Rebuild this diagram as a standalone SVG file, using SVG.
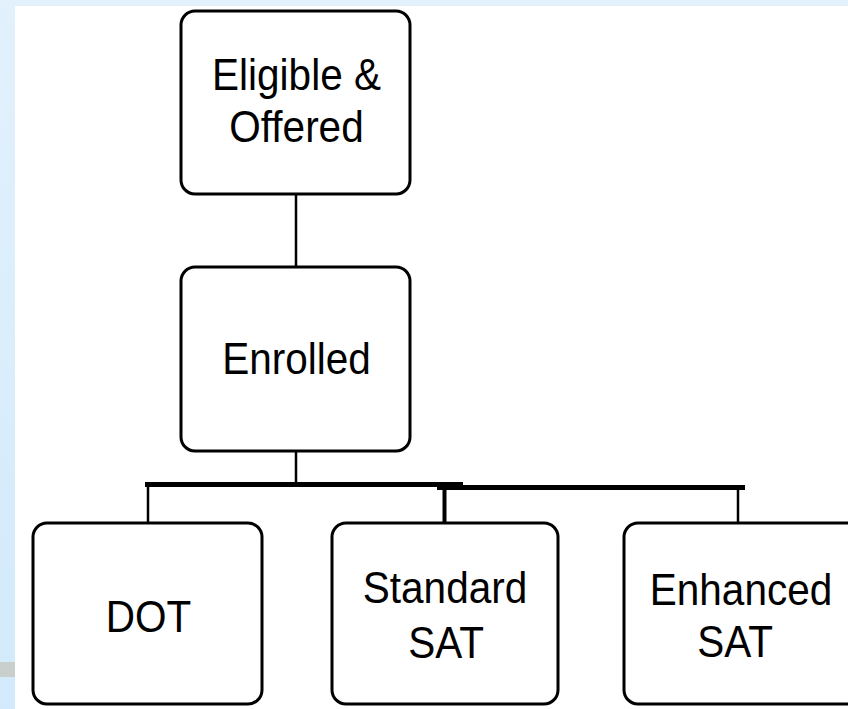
<svg xmlns="http://www.w3.org/2000/svg" width="848" height="709" viewBox="0 0 848 709">
  <defs>
    <linearGradient id="bg" x1="0" y1="0" x2="0" y2="1">
      <stop offset="0" stop-color="#e2f1fc"/>
      <stop offset="1" stop-color="#d2eafb"/>
    </linearGradient>
    <style>
      .box { fill: #ffffff; stroke: #000000; stroke-width: 3; }
      .lbl { font-family: "Liberation Sans", Arial, sans-serif; font-size: 45px; fill: #000000; text-anchor: middle; }
      .wire { stroke: #000000; fill: none; }
    </style>
  </defs>
  <rect x="0" y="0" width="848" height="709" fill="url(#bg)"/>
  <rect x="15" y="6" width="833" height="703" fill="#ffffff"/>
  <rect x="0" y="662" width="15" height="15" fill="#c8cfcc"/>

  <g id="connectors">
    <line class="wire" x1="296" y1="194" x2="296" y2="267" stroke-width="2.5"/>
    <line class="wire" x1="296" y1="451" x2="296" y2="483" stroke-width="2.5"/>
    <rect x="145" y="482" width="318" height="5" fill="#000000"/>
    <rect x="437" y="485" width="308" height="5" fill="#000000"/>
    <line class="wire" x1="148" y1="486" x2="148" y2="523" stroke-width="2.5"/>
    <line class="wire" x1="444.5" y1="488" x2="444.5" y2="523" stroke-width="4"/>
    <line class="wire" x1="738" y1="489" x2="738" y2="523" stroke-width="2.5"/>
  </g>

  <g id="eligible">
    <rect class="box" x="181" y="11" width="229" height="183" rx="14"/>
    <text class="lbl" transform="translate(296.5,90) scale(0.9,1)">Eligible &amp;</text>
    <text class="lbl" transform="translate(296.5,142) scale(0.9,1)">Offered</text>
  </g>

  <g id="enrolled">
    <rect class="box" x="181" y="267" width="229" height="184" rx="14"/>
    <text class="lbl" transform="translate(296.5,374) scale(0.9,1)">Enrolled</text>
  </g>

  <g id="dot">
    <rect class="box" x="33" y="523" width="229" height="181" rx="14"/>
    <text class="lbl" transform="translate(148.5,632) scale(0.9,1)">DOT</text>
  </g>

  <g id="standard-sat">
    <rect class="box" x="332" y="523" width="226" height="181" rx="14"/>
    <text class="lbl" transform="translate(445,603) scale(0.9,1)">Standard</text>
    <text class="lbl" transform="translate(446,658) scale(0.9,1)">SAT</text>
  </g>

  <g id="enhanced-sat">
    <rect class="box" x="624" y="523" width="240" height="181" rx="14"/>
    <text class="lbl" transform="translate(741,605) scale(0.9,1)">Enhanced</text>
    <text class="lbl" transform="translate(735,657) scale(0.9,1)">SAT</text>
  </g>
</svg>
